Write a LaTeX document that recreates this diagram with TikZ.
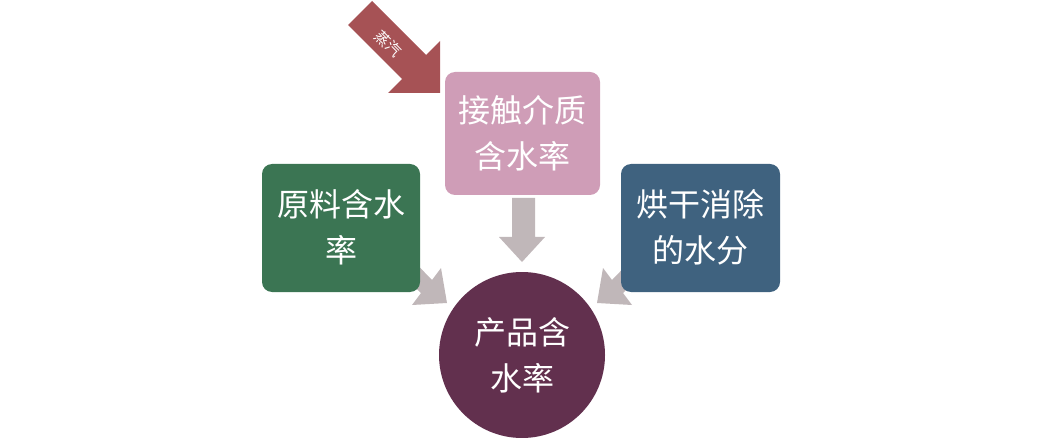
\documentclass[tikz,border=0pt]{standalone}
\usepackage{fontspec}
\newfontfamily\cjk{Noto Sans CJK SC}
\definecolor{pinkb}{HTML}{CF9DB7}
\definecolor{greenb}{HTML}{3B7553}
\definecolor{blueb}{HTML}{3F627F}
\definecolor{circb}{HTML}{62304E}
\definecolor{grayA}{HTML}{C0B7B9}
\definecolor{redA}{HTML}{A65255}
\begin{document}
\begin{tikzpicture}[x=1pt,y=-1pt,
  box/.style={rounded corners=10pt,text=white,font=\cjk\fontsize{32}{46}\selectfont,align=center,inner sep=0pt}]
\useasboundingbox (0,0) rectangle (1043,438);
% gray arrows
\fill[grayA] (512,198) -- (535,198) -- (535,237) -- (545,237) -- (522,262) -- (499,237) -- (512,237) -- cycle;
\fill[grayA] (402,249) -- (432,280) -- (441,268) -- (447,303) -- (412,305) -- (421,293) -- (390,263) -- cycle;
\fill[grayA] (642,249) -- (612,280) -- (603,268) -- (597,303) -- (632,305) -- (623,293) -- (654,263) -- cycle;
% boxes
\fill[pinkb,rounded corners=10pt] (445,72) rectangle (600,195);
\node[box] (p) at (522.5,133.5) {接触介质\\含水率};
\fill[greenb,rounded corners=10pt] (262,164) rectangle (420,292);
\node[box] (g) at (341,227) {原料含水\\率};
\fill[blueb,rounded corners=10pt] (621,164) rectangle (780,292);
\node[box] (b) at (700.5,227) {烘干消除\\的水分};
\fill[circb] (522,355) circle (83);
\node[box] (c) at (522,355) {产品含\\水率};
% red arrow
\fill[redA] (372,1) -- (426,55) -- (440,41) -- (440,93) -- (388,93) -- (402,79) -- (348,25) -- cycle;
\node[text=white,font=\cjk\fontsize{15}{15}\selectfont,rotate=-45,inner sep=0pt] (s) at (388,44) {蒸汽};
\end{tikzpicture}
\end{document}
